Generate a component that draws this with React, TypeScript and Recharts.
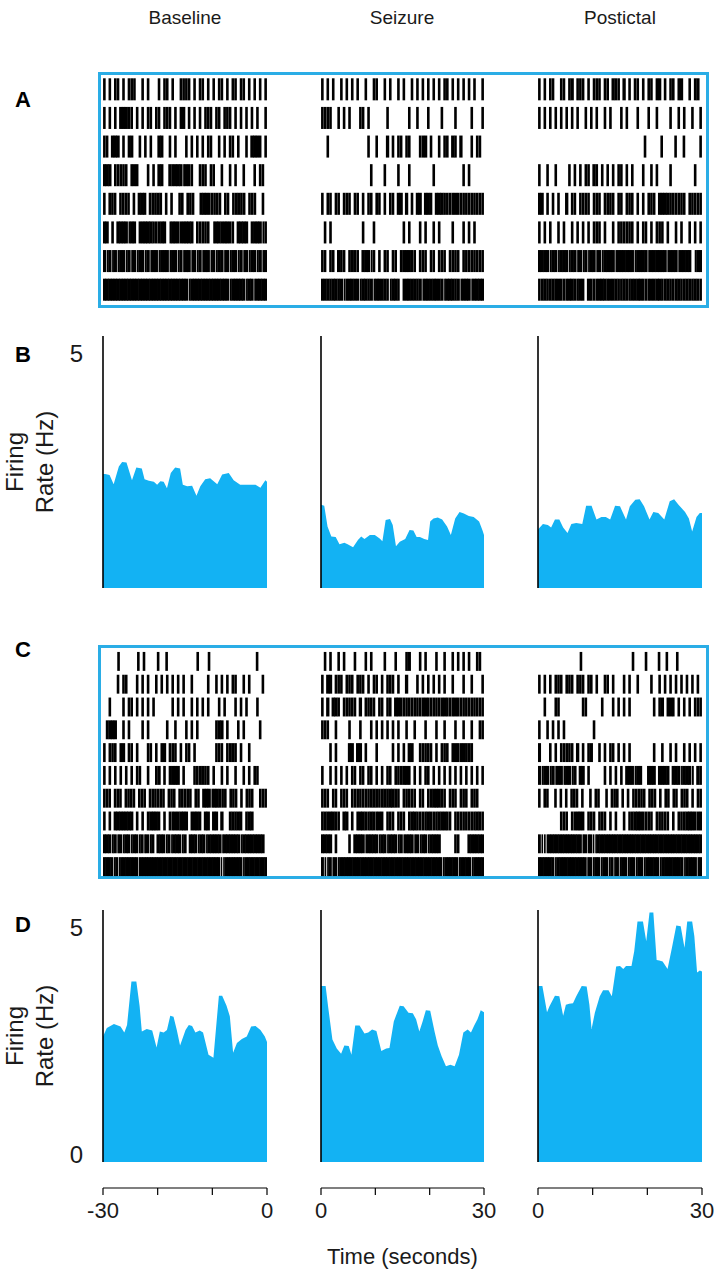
import React from 'react';
import { AreaChart, Area, XAxis, YAxis, ReferenceLine, ScatterChart, Scatter } from 'recharts';

const FONT = '"Liberation Sans", Arial, Helvetica, sans-serif';
const BLUE = '#13b2f3';
const BOX_BLUE = '#2aade6';
const INK = '#1a1a1a';

const CONDITIONS = ['Baseline', 'Seizure', 'Postictal'];
const TIME_DOMAINS: [number, number][] = [[-30, 0], [0, 30], [0, 30]];
const TIME_TICKS = [[-30, -20, -10, 0], [0, 10, 20, 30], [0, 10, 20, 30]];
const TIME_LABELED = [[-30, 0], [0, 30], [0, 30]];
const RATE_TICKS = [0, 5];

// firing rate traces, [time (s), rate (Hz)]
const RATE_B_BASELINE = [[-30, 2.26], [-29.6, 2.26], [-28.8, 2.24], [-28.05, 2.06], [-27.1, 2.41], [-26.5, 2.5], [-25.7, 2.49], [-24.7, 2.14], [-23.9, 2.39], [-22.9, 2.37], [-22.4, 2.16], [-21.6, 2.13], [-20.7, 2.11], [-20.1, 2.05], [-19.5, 2.12], [-18.9, 2.11], [-18.3, 1.98], [-17.6, 2.28], [-16.8, 2.39], [-15.9, 2.37], [-15.4, 2.05], [-14.6, 2.02], [-13.7, 2.03], [-12.9, 1.83], [-12.2, 2.02], [-11.3, 2.16], [-10.4, 2.18], [-9.1, 2.06], [-8.2, 2.25], [-7.0, 2.28], [-6.1, 2.14], [-4.9, 2.05], [-2.1, 2.05], [-1.2, 1.99], [-0.3, 2.14], [0, 2.11]];
const RATE_B_SEIZURE = [[0, 1.65], [0.6, 1.63], [1.2, 1.22], [1.9, 1.02], [2.7, 1.01], [3.4, 0.87], [4.3, 0.9], [4.9, 0.87], [5.9, 0.81], [6.8, 0.95], [7.4, 1.02], [8.0, 0.97], [9.0, 1.05], [9.9, 1.05], [10.8, 0.98], [11.3, 0.93], [11.9, 1.35], [12.7, 1.37], [13.2, 1.25], [13.8, 0.83], [14.5, 0.92], [15.5, 0.97], [16.3, 1.15], [17.0, 1.14], [17.6, 1.01], [18.2, 1.01], [19.0, 0.97], [19.7, 0.95], [20.1, 1.32], [20.7, 1.38], [21.5, 1.4], [22.3, 1.36], [23.2, 1.22], [23.9, 1.05], [24.7, 1.38], [25.5, 1.51], [26.3, 1.48], [27.2, 1.43], [28.1, 1.41], [29.1, 1.32], [29.7, 1.15], [30, 1.05]];
const RATE_B_POSTICTAL = [[0, 1.16], [0.9, 1.27], [1.8, 1.25], [2.4, 1.2], [3.1, 1.36], [3.9, 1.36], [4.6, 1.2], [5.4, 1.09], [6.1, 1.27], [7.0, 1.29], [8.1, 1.27], [8.8, 1.63], [9.8, 1.63], [10.7, 1.36], [11.6, 1.41], [12.4, 1.41], [13.2, 1.36], [14.1, 1.63], [15.0, 1.62], [16.1, 1.36], [16.8, 1.62], [17.8, 1.75], [18.6, 1.76], [19.4, 1.62], [20.4, 1.36], [21.1, 1.51], [22.0, 1.49], [23.1, 1.36], [24.1, 1.72], [24.9, 1.76], [25.7, 1.65], [26.9, 1.51], [27.6, 1.38], [28.2, 1.12], [29.0, 1.41], [29.6, 1.49], [30, 1.49]];
const RATE_D_BASELINE = [[-30, 2.49], [-29.3, 2.66], [-28.0, 2.74], [-26.8, 2.69], [-26.1, 2.57], [-25.6, 2.72], [-24.8, 3.58], [-23.9, 3.58], [-23.3, 3.09], [-22.9, 2.59], [-22.0, 2.64], [-21.0, 2.61], [-20.2, 2.27], [-19.6, 2.59], [-18.9, 2.57], [-18.3, 2.62], [-17.7, 2.9], [-17.1, 2.88], [-16.5, 2.62], [-15.9, 2.31], [-14.9, 2.62], [-14.3, 2.72], [-13.7, 2.7], [-13.1, 2.57], [-12.3, 2.61], [-11.7, 2.57], [-10.7, 2.13], [-9.8, 2.07], [-8.8, 3.3], [-8.2, 3.3], [-7.4, 3.1], [-6.8, 2.89], [-6.2, 2.17], [-5.5, 2.36], [-4.6, 2.44], [-3.7, 2.49], [-2.9, 2.69], [-2.1, 2.7], [-1.2, 2.62], [-0.4, 2.49], [0, 2.38]];
const RATE_D_SEIZURE = [[0, 3.49], [0.85, 3.49], [1.3, 3.09], [2.1, 2.43], [2.9, 2.25], [3.7, 2.15], [4.3, 2.31], [5.1, 2.3], [5.6, 2.13], [6.3, 2.71], [7.1, 2.71], [8.0, 2.55], [8.7, 2.57], [9.4, 2.63], [10.2, 2.6], [11.1, 2.2], [12.0, 2.25], [12.6, 2.26], [13.4, 2.79], [14.5, 3.1], [15.2, 3.09], [16.1, 2.96], [16.9, 2.95], [17.5, 2.83], [18.1, 2.59], [18.7, 2.79], [19.3, 3.01], [20.1, 3.0], [20.9, 2.59], [21.5, 2.31], [22.2, 2.1], [23.0, 1.9], [23.8, 1.93], [24.6, 1.9], [25.4, 2.13], [26.2, 2.57], [27.0, 2.63], [27.6, 2.57], [28.2, 2.71], [28.8, 2.83], [29.4, 3.01], [30, 2.97]];
const RATE_D_POSTICTAL = [[0, 3.49], [0.8, 3.49], [1.65, 2.97], [2.1, 3.09], [3.1, 3.3], [3.9, 3.29], [4.6, 2.9], [5.1, 3.12], [5.7, 3.14], [6.4, 3.15], [7.0, 3.29], [8.0, 3.49], [8.9, 3.48], [9.4, 3.12], [9.8, 2.64], [10.4, 2.96], [11.3, 3.29], [11.9, 3.41], [12.9, 3.41], [13.5, 3.29], [14.3, 3.88], [15.0, 3.89], [15.6, 3.83], [16.1, 3.89], [17.1, 3.89], [17.6, 4.18], [18.2, 4.77], [19.2, 4.77], [19.8, 4.38], [20.4, 4.95], [21.1, 4.95], [21.7, 4.01], [22.2, 4.0], [22.8, 3.98], [23.7, 3.83], [24.5, 4.25], [25.3, 4.69], [26.1, 4.68], [26.8, 4.25], [27.3, 4.77], [28.2, 4.77], [28.6, 4.48], [29.1, 3.76], [29.6, 3.8], [30, 3.78]];

// spike rasters, one string per trial, one char per 0.5 s bin
// '.' nothing, '|' single spike, '#' burst (bin filled), '!' burst bin after a short silence
const RASTER_A_BASELINE = [
  '|.|.||.|.|||..|.|...|.||.|..||||.|.||.|.|.||.|.||.||.|.|.|.|',
  '|.|.|.###||.|.|.||.||.|||.|.|#.|.|.|.|||.||.|||.|.|.|.|.|..|',
  '||.###.|.|#..|.|.|..##..|.|...|.|.|.|.||..|.|.||.|..|.###|.|',
  '###.|||||.|#|...|.|.##..#|###!#||..|||.||..|..|.|..|...|.||.',
  '|.|||.||||.|.###.|||#|.|.|..||.|||..###|||||.||.||#||.|||..|.',
  '##.|.####!##.|####|||##.!##||####.|||||.!##|##||.####.|###!|',
  '#!#!#!##!#!#!##!#!##!###!##!#!##!#!#!##!#!##!#!##!#!#!##!#!#',
  '###############################!##############!#####!##!####',
];
const RASTER_A_SEIZURE = [
  '|.|.|..|.|.|.|..|..||..|.|..|.|..|.|.|.|.|.|.||.|.|.|.|.|..|',
  '||||..|.|.|...||.|......|.......|..|...|....|....|.....|...|',
  '..|..............|..|...#.|.||.||...||#.|..|.||.#|.#...|.||.',
  '..................|....|....|...|........|..........|.|.....',
  '|.||.||.|||.||.|.||.||.|.||.##.#.|.##.##|.###||||#||||||||||',
  '.|.|...........|...|..........|.|...|.|..|.|....|...|.|.|...',
  '||.||.#||.|#||.###!|.|.||.||.|###||.|||.||.|||.||||.||||||||',
  '#|#|##|#!|##|#!##|#!##|#|!##|.|##|#|#!##|##|#!###|#!###!####',
];
const RASTER_A_POSTICTAL = [
  '|.|.||..||.|#.|||.|.|||.||.#||.#.|.||.|.||.|#.|.||.|#..|.|#.',
  '|.|.|.|.|.|.|.|..|.|.|..|.|...|.|...|...|..|....|..|.|..|..|',
  '......................................|.....|....|..|.....|',
  '|..|..|....|.|.|.||.#|.|.|.|.||.|.|...|..|.|....|........|..',
  '##.|.|.|..#.||.||||.|||.||||.||.|||.|.|.|||.####||||||.|||||',
  '|.|.|..|.|..|.|.|.|.|||.|..|.||||||.|.||.|.|||.|..|.|..|.|.|',
  '####!##!###!##!#!#!##!#!####!######!####!######!###!####.!##',
  '||#||#|#|||##||#|.#|||###|#|#||#||#|##|||#|##||#|||#||#||#||',
];
const RASTER_C_BASELINE = [
  '.....|......|.|....|..|..........|...|................|...',
  '.....|.||...|.|.|..|.|.|.|.|.|..|.....|..|.|.|.||..|.|....|.',
  '..|....|.||.|.|.|.|......|.|.|..|.|.|.|...|.|...|.|.|...|...',
  '.|###..|.|....|.|......|..|...|.|.|......|##.|...|.|.....|..',
  '|.|||.|#.||.|...||.|.|#.|||.|.||.|.......|||.||#|.|..|......',
  '|.|.|.|.|.|.||..|..|#.|.|###.|...|||#||.|..|.|..|..|.|.||...',
  '|||.|||.||||.|||.||||||.|||.|||||.||.###!##|||.|||.|.|||..|||',
  '|.|.#######.|.|.|###|.|.||#|###.|##|.##.##.#..|#|#|.|##.....',
  '###!#!#!##!##!#!#!#.###!#!###!#.###!##!#####!######!########.',
  '####!#!#######!################################!!#######!#########',
];
const RASTER_C_SEIZURE = [
  '.|.|..|.|...|...|.|....|...|...|#...|.|...|..|..|.|.|.|..||.',
  '|.##.|||.|||.|||.|.||.|.|||.|..#...|.|.|.|.|.|..|...|..|...|',
  '|.#.##|.|||||.#.||||.||.||.##|||||||||#||||||#|||#||||||||||',
  '|||..|....|...|...|.|.|.|.|.|..|..|...|...|..|...|..|..|..||',
  '...|.|....##.##.|...|.....|.|.|.##..|||||.|.|||.|#||#|#|....',
  '|..|.|.|.|.||.||.||.|.|.||.|||##|.|.|.||.|.|.|.|.|.|.|.|.|.|',
  '|||.||.|||.||||||||#|||#|##||.|||||.||.||###||.|||.|||.|||..',
  '|#|##||.##.|.|##||#||#|.|||.|||.|##||||#|||#|#||.||||||||#||',
  '####.|....|.####!####!##!###!#!###!#!##!####.....||...######',
  '#!!#!#!#######################################!#####!####!####',
];
const RASTER_C_POSTICTAL = [
  '................|...................|....|....|..|...|.........',
  '|.|.|.|||.|||.|||.||.|..||.|...|.|..|....|..|.|.|.|.|.|.|.|.',
  '..|...||........||.....|...|.|.|.|........|.|#.|#|.|.|.|.|||',
  '|..|.|.|.|..........|.......................................',
  '#...|.|.|||||.#.|.|#..|.|.||.|.|.|........|..|..|.|..|.|.|.|',
  '#!##!#!##!##!#.##.|.....|.|.|.|.###!##..###.####.###!###!.#|',
  '|.||..|.|.|.|||.|..|.||..|.|||.|.|.|||||.|||.|.||.||.|||.|.||',
  '........|||.||##|.|||.|||.|.|..|.||###||||.|||||.|.|||###||#',
  '#!!!#############!#!#!!#########################################',
  '######!###########!#!##!##!#!#!##!##!##!#####!########!####!#',
];

// page layout (pixels)
const PLOT_LEFT = [103, 320.5, 538];
const PLOT_WIDTH = [164, 163, 164];
const Y_AXIS_W = 103;
const RATE_PX = 252;
const AXIS_GAP = 26;

function Raster({ rows, col, top, height, fill }: { rows: string[]; col: number; top: number; height: number; fill: number }) {
  const domain = TIME_DOMAINS[col];
  const pxPerSec = PLOT_WIDTH[col] / 30;
  const pitch = height / rows.length;
  const points: { t: number; row: number; kind: string; bin: number }[] = [];
  rows.forEach((row, r) => {
    const bin = 30 / row.length;
    for (let i = 0; i < row.length; i++) {
      const kind = row[i];
      if (kind === '.') continue;
      points.push({ t: domain[0] + (i + 0.5) * bin, row: r + 1, kind, bin });
    }
  });
  const shape = (p: any) => {
    const { cx, cy, payload } = p;
    const h = pitch * fill;
    const full = payload.bin * pxPerSec;
    let x = cx - 1.3;
    let w = 2.6;
    if (payload.kind === '#') {
      w = full + 0.6;
      x = cx - w / 2;
    } else if (payload.kind === '!') {
      w = full - 0.9;
      x = cx - full / 2 + 0.9;
    }
    return <rect x={x} y={cy - h / 2} width={w} height={h} fill="#000" />;
  };
  return (
    <div style={{ position: 'absolute', left: PLOT_LEFT[col], top }}>
      <ScatterChart width={PLOT_WIDTH[col]} height={height} margin={{ top: 0, right: 0, bottom: 0, left: 0 }}>
        <XAxis type="number" dataKey="t" domain={domain} allowDataOverflow hide />
        <YAxis type="number" dataKey="row" domain={[0.5, rows.length + 0.5]} allowDataOverflow reversed hide />
        <Scatter data={points} shape={shape} isAnimationActive={false} />
      </ScatterChart>
    </div>
  );
}

const RateTick = (props: any) => {
  const { x, y, payload } = props;
  return (
    <text x={x} y={y + (payload.value === 5 ? 8 : -8)} dy="0.36em" textAnchor="end" fontSize={24} fill={INK} fontFamily={FONT}>
      {payload.value}
    </text>
  );
};

const RateLabel = (props: any) => {
  const vb = props.viewBox || {};
  const cy = vb.y + RATE_PX / 2;
  return (
    <g fontSize={24} fill={INK} fontFamily={FONT}>
      <text x={14} y={cy} transform={`rotate(-90, 14, ${cy})`} textAnchor="middle" dominantBaseline="central">Firing</text>
      <text x={44} y={cy} transform={`rotate(-90, 44, ${cy})`} textAnchor="middle" dominantBaseline="central">Rate (Hz)</text>
    </g>
  );
};

function RateChart({ data, col, top, bottom }: { data: number[][]; col: number; top: number; bottom: boolean }) {
  const first = col === 0;
  const minRate = bottom ? (-5 * AXIS_GAP) / RATE_PX : 0;
  const plotH = RATE_PX + (bottom ? AXIS_GAP : 0);
  const xAxisH = bottom ? (col === 1 ? 82 : 50) : 0;
  const yW = first ? Y_AXIS_W : 0;
  const ml = first ? 0 : 20;
  const mr = bottom ? 20 : 0;
  const rows = data.map(([t, rate]) => ({ t, rate }));
  const start = TIME_DOMAINS[col][0];
  return (
    <div style={{ position: 'absolute', left: PLOT_LEFT[col] - yW - ml, top }}>
      <AreaChart
        width={ml + yW + PLOT_WIDTH[col] + mr}
        height={plotH + xAxisH}
        data={rows}
        margin={{ top: 0, right: mr, bottom: 0, left: ml }}
      >
        <XAxis
          type="number"
          dataKey="t"
          domain={TIME_DOMAINS[col]}
          ticks={TIME_TICKS[col]}
          allowDataOverflow
          hide={!bottom}
          height={xAxisH}
          axisLine={{ stroke: '#000', strokeWidth: 1.2 }}
          tickLine={{ stroke: '#000', strokeWidth: 1.2 }}
          tickSize={7}
          tickMargin={7}
          tickFormatter={(v: number) => (TIME_LABELED[col].includes(v) ? String(v) : '')}
          tick={{ fontSize: 22, fill: INK, fontFamily: FONT }}
          label={col === 1 ? { value: 'Time (seconds)', position: 'insideBottom', offset: 6, fontSize: 22, fill: INK, fontFamily: FONT } : undefined}
        />
        <YAxis
          type="number"
          domain={[minRate, 5]}
          ticks={RATE_TICKS}
          allowDataOverflow
          hide={!first}
          width={yW}
          axisLine={false}
          tickLine={false}
          tickSize={0}
          tickMargin={20}
          tick={RateTick}
          label={RateLabel}
        />
        <Area dataKey="rate" type="linear" fill={BLUE} fillOpacity={1} stroke="none" isAnimationActive={false} />
        <ReferenceLine segment={[{ x: start, y: 0 }, { x: start, y: 5 }]} stroke="#000" strokeWidth={1.6} />
      </AreaChart>
    </div>
  );
}

const box = (top: number, height: number): React.CSSProperties => ({
  position: 'absolute',
  left: 98,
  top,
  width: 611,
  height,
  boxSizing: 'border-box',
  border: `3px solid ${BOX_BLUE}`,
});

const panelLabel = (top: number): React.CSSProperties => ({
  position: 'absolute',
  left: 10,
  top,
  width: 26,
  textAlign: 'center',
  fontSize: 22,
  lineHeight: '24px',
  fontWeight: 700,
  color: '#000',
});

export default function App() {
  const centers = PLOT_LEFT.map((l, i) => l + PLOT_WIDTH[i] / 2);
  return (
    <div style={{ position: 'absolute', left: 0, top: 0, width: 716, height: 1280, background: '#fff', fontFamily: FONT, overflow: 'hidden' }}>
      {CONDITIONS.map((c, i) => (
        <div key={c} style={{ position: 'absolute', left: centers[i] - 70, width: 140, top: 7, textAlign: 'center', fontSize: 19, lineHeight: '22px', color: INK }}>
          {c}
        </div>
      ))}

      <div style={panelLabel(88)}>A</div>
      <div style={panelLabel(343)}>B</div>
      <div style={panelLabel(638)}>C</div>
      <div style={panelLabel(913)}>D</div>

      <div style={box(72, 236)} />
      <Raster rows={RASTER_A_BASELINE} col={0} top={75} height={229} fill={0.77} />
      <Raster rows={RASTER_A_SEIZURE} col={1} top={75} height={229} fill={0.77} />
      <Raster rows={RASTER_A_POSTICTAL} col={2} top={75} height={229} fill={0.77} />

      <RateChart data={RATE_B_BASELINE} col={0} top={336} bottom={false} />
      <RateChart data={RATE_B_SEIZURE} col={1} top={336} bottom={false} />
      <RateChart data={RATE_B_POSTICTAL} col={2} top={336} bottom={false} />

      <div style={box(645, 234)} />
      <Raster rows={RASTER_C_BASELINE} col={0} top={650} height={228} fill={0.83} />
      <Raster rows={RASTER_C_SEIZURE} col={1} top={650} height={228} fill={0.83} />
      <Raster rows={RASTER_C_POSTICTAL} col={2} top={650} height={228} fill={0.83} />

      <RateChart data={RATE_D_BASELINE} col={0} top={910} bottom />
      <RateChart data={RATE_D_SEIZURE} col={1} top={910} bottom />
      <RateChart data={RATE_D_POSTICTAL} col={2} top={910} bottom />
    </div>
  );
}
